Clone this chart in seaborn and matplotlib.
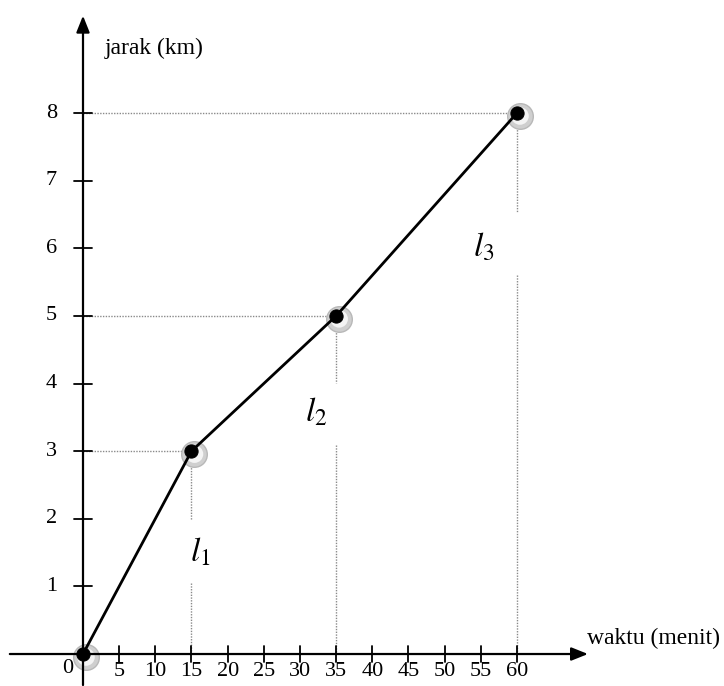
import matplotlib
matplotlib.use("Agg")
import matplotlib.pyplot as plt
import matplotlib.transforms as mtrans
import seaborn as sns
import pandas as pd

# data
waktu = [0, 15, 35, 60]
jarak = [0, 3, 5, 8]
x_ticks = [5, 10, 15, 20, 25, 30, 35, 40, 45, 50, 55, 60]
y_ticks = [1, 2, 3, 4, 5, 6, 7, 8]
seg_labels = [r"$l_1$", r"$l_2$", r"$l_3$"]
seg_label_pos = [(16.2, 1.5), (32.2, 3.58), (55.4, 6.02)]
gap = [(1.98, 1.05), (4.01, 3.09), (6.52, 5.6)]  # vertical dotted gaps (stop, resume)

sns.set_style("white")
plt.rcParams["font.family"] = ["Liberation Serif", "DejaVu Serif"]
plt.rcParams["mathtext.fontset"] = "stix"
plt.rcParams["text.color"] = "black"

df = pd.DataFrame({"waktu": waktu, "jarak": jarak})

fig = plt.figure(figsize=(7.24, 6.86), dpi=100)
ax = fig.add_axes([0, 0, 1, 1])
ax.set_xlim(-11.475, 88.62)
ax.set_ylim(-0.473, 9.671)
ax.axis("off")

# dotted guide lines
dot_kw = dict(color="#8a8a8a", lw=1.0, ls=(0, (1, 1)), zorder=1)
for i, (xv, yv) in enumerate(zip(waktu[1:], jarak[1:])):
    ax.plot([0, xv], [yv, yv], **dot_kw)
    stop, resume = gap[i]
    ax.plot([xv, xv], [yv, stop], **dot_kw)
    ax.plot([xv, xv], [resume, 0], **dot_kw)

# axes with arrows
ax.annotate("", xy=(70.2, 0), xytext=(-10.5, 0),
            arrowprops=dict(arrowstyle="-|>,head_length=1.0,head_width=0.4", color="black", lw=1.6))
ax.annotate("", xy=(0, 9.48), xytext=(0, -0.5),
            arrowprops=dict(arrowstyle="-|>,head_length=1.0,head_width=0.4", color="black", lw=1.6))

# ticks
for t in x_ticks:
    ax.plot([t, t], [-0.125, 0.125], color="black", lw=1.3, zorder=2)
    ax.text(t, -0.12, str(t), ha="center", va="top", fontsize=16, color="black")
for t in y_ticks:
    ax.plot([-1.25, 1.25], [t, t], color="black", lw=1.3, zorder=2)
    ax.text(-3.6, t, str(t), ha="right", va="center", fontsize=16, color="black")
ax.text(-1.4, -0.08, "0", ha="right", va="top", fontsize=16, color="black")

ax.text(3.0, 8.96, "jarak (km)", ha="left", va="center", fontsize=17, color="black")
ax.text(69.7, 0.07, "waktu (menit)", ha="left", va="bottom", fontsize=17, color="black")

# line
sns.lineplot(data=df, x="waktu", y="jarak", color="black", lw=2.0, ax=ax, zorder=3, legend=False)

# marker halos (offset shadow) and dots
shadow = ax.transData + mtrans.ScaledTranslation(3 / 100, -3 / 100, fig.dpi_scale_trans)
ax.scatter(waktu, jarak, s=340, color="#cfcfcf", edgecolor="#b8b8b8", linewidth=1.0,
           transform=shadow, zorder=2.5)
ax.scatter(waktu, jarak, s=160, color="#f4f4f4", edgecolor="none", transform=shadow, zorder=2.6)
sns.scatterplot(data=df, x="waktu", y="jarak", s=90, color="black", edgecolor="black",
                ax=ax, zorder=4, legend=False)
ax.set_xlabel("")
ax.set_ylabel("")
ax.axis("off")

for lab, (lx, ly) in zip(seg_labels, seg_label_pos):
    ax.text(lx, ly, lab, ha="center", va="center", fontsize=24, color="black")

fig.savefig("out.png", dpi=100)
